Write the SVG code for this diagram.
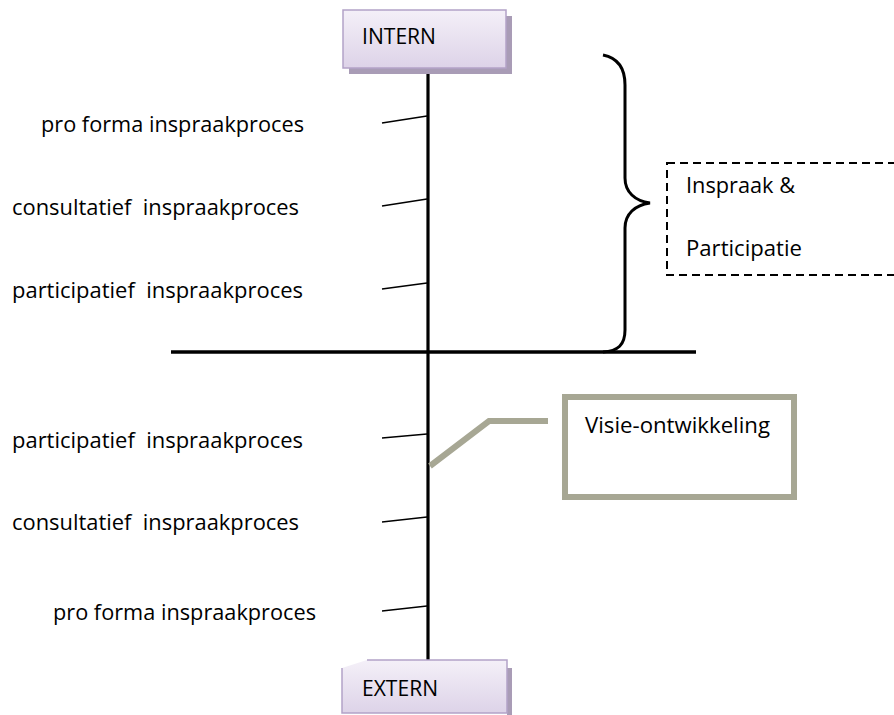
<svg xmlns="http://www.w3.org/2000/svg" width="894" height="715" viewBox="0 0 894 715">
  <defs>
    <linearGradient id="boxFill" x1="0" y1="0" x2="0" y2="1">
      <stop offset="0" stop-color="#f4f0f8"/>
      <stop offset="1" stop-color="#ddd3e8"/>
    </linearGradient>
    <style>
      .lbl { font-family: "Open Sans", "Liberation Sans", sans-serif; font-size: 21.5px; fill: #000; }
      .box { fill: url(#boxFill); stroke: #b3a2c7; stroke-width: 1.5; }
      .shadow { fill: #a99cb6; }
      .axis { stroke: #000; stroke-width: 3.5; fill: none; }
      .tick { stroke: #000; stroke-width: 1.5; fill: none; }
      .callout { stroke: #a7a794; stroke-width: 6; fill: none; }
    </style>
  </defs>
  <rect width="894" height="715" fill="#fff"/>

  <g id="connectors">
    <line class="axis" x1="428" y1="68" x2="428" y2="662" style="stroke-width:3.2"/>
    <line class="axis" x1="171" y1="352" x2="696" y2="352"/>
    <line class="tick" x1="382" y1="123" x2="427" y2="116"/>
    <line class="tick" x1="382" y1="206" x2="427" y2="199"/>
    <line class="tick" x1="382" y1="289" x2="427" y2="283"/>
    <line class="tick" x1="382" y1="438" x2="427" y2="434"/>
    <line class="tick" x1="382" y1="522" x2="427" y2="517"/>
    <line class="tick" x1="382" y1="611" x2="427" y2="606"/>
    <path class="callout" d="M430,466 L489,421 L548,421"/>
  </g>

  <g id="intern">
    <rect class="shadow" x="349" y="16" width="163" height="58"/>
    <rect class="box" x="343" y="10" width="163" height="58"/>
    <text class="lbl" x="362" y="44" textLength="74" lengthAdjust="spacingAndGlyphs">INTERN</text>
  </g>

  <g id="extern">
    <rect class="shadow" x="507" y="668" width="5" height="47"/>
    <path d="M367,660 H507 V713 H342 V668 Z" fill="url(#boxFill)"/>
    <path d="M367,660 H507 V713 H342 V668" fill="none" stroke="#b3a2c7" stroke-width="1.5"/>
    <text class="lbl" x="362" y="696" textLength="76" lengthAdjust="spacingAndGlyphs">EXTERN</text>
  </g>

  <g id="labels-intern">
    <text class="lbl" x="41" y="132" textLength="263" lengthAdjust="spacingAndGlyphs">pro forma inspraakproces</text>
    <text class="lbl" x="12" y="215" textLength="287" lengthAdjust="spacingAndGlyphs" xml:space="preserve">consultatief  inspraakproces</text>
    <text class="lbl" x="12" y="298" textLength="291" lengthAdjust="spacingAndGlyphs" xml:space="preserve">participatief  inspraakproces</text>
  </g>

  <g id="labels-extern">
    <text class="lbl" x="12" y="448" textLength="291" lengthAdjust="spacingAndGlyphs" xml:space="preserve">participatief  inspraakproces</text>
    <text class="lbl" x="12" y="530" textLength="287" lengthAdjust="spacingAndGlyphs" xml:space="preserve">consultatief  inspraakproces</text>
    <text class="lbl" x="53" y="620" textLength="263" lengthAdjust="spacingAndGlyphs">pro forma inspraakproces</text>
  </g>

  <g id="brace">
    <path d="M603,55 C618,58 625,68 625,85 L625,178 C625,192 635,201 650,203 C635,205 625,214 625,228 L625,330 C625,345 618,351 603,352" fill="none" stroke="#000" stroke-width="3"/>
  </g>

  <g id="inspraak-participatie">
    <rect x="667" y="163" width="240" height="112" fill="none" stroke="#000" stroke-width="2" stroke-dasharray="8,5"/>
    <text class="lbl" x="686" y="193" textLength="109" lengthAdjust="spacingAndGlyphs">Inspraak &amp;</text>
    <text class="lbl" x="686" y="256" textLength="116" lengthAdjust="spacingAndGlyphs">Participatie</text>
  </g>

  <g id="visie">
    <rect x="565" y="397" width="229" height="100" fill="#fff" stroke="#a7a794" stroke-width="6"/>
    <text class="lbl" x="585" y="433" textLength="185" lengthAdjust="spacingAndGlyphs">Visie-ontwikkeling</text>
  </g>
</svg>
